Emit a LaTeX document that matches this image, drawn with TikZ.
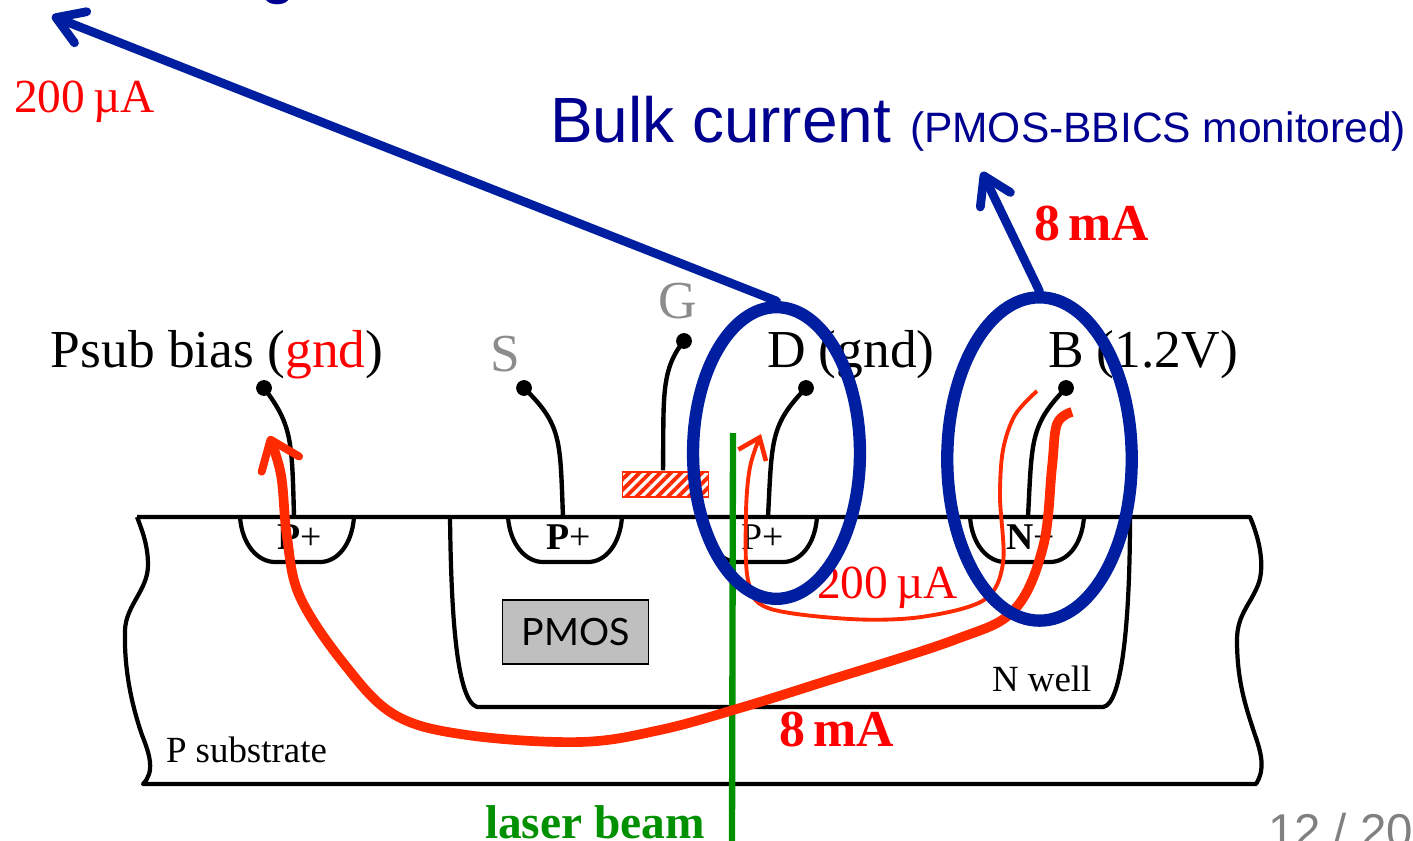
\documentclass[tikz,border=0pt]{standalone}
\usepackage{fontspec}
\setmainfont{Liberation Serif}
\setsansfont{Liberation Sans}
\newfontfamily\boxfont{Lato}
\usetikzlibrary{arrows.meta,patterns.meta,shapes.geometric}

\definecolor{loopblue}{HTML}{001EA0}
\definecolor{titleblue}{HTML}{000090}
\definecolor{currentred}{HTML}{FF2A00}
\definecolor{beamgreen}{HTML}{009000}

\tikzset{
  lbl/.style={anchor=base west,inner sep=0pt,outer sep=0pt},
  big/.style={lbl,font=\fontsize{30.4}{30.4}\selectfont},
  small/.style={lbl,font=\fontsize{21}{21}\selectfont},
  redlbl/.style={lbl,text=red,font=\fontsize{27}{27}\selectfont},
  boldred/.style={lbl,text=red,font=\fontsize{29.5}{29.5}\selectfont\bfseries},
  dopant/.style={lbl,font=\fontsize{21.5}{21.5}\selectfont},
  termdot/.style={circle,fill=black,minimum size=9pt,inner sep=0pt},
  silicon/.style={line width=2.4pt,black,line join=round},
  wire/.style={line width=2.5pt,black},
  loopring/.style={ellipse,draw=loopblue,line width=7pt,inner sep=0pt},
  blueflow/.style={loopblue,line width=5pt,line cap=round,-{Straight Barb[length=15pt,width=19pt,line width=5pt,round]}},
  thickflow/.style={currentred,line width=5.5pt,-{Straight Barb[length=15pt,width=23pt,line width=4.5pt,round]}},
  thinflow/.style={currentred,line width=2.2pt,-{Straight Barb[length=11pt,width=17pt,line width=2.6pt]}}
}

\begin{document}
\begin{tikzpicture}[x=0.02cm,y=-0.02cm]
\useasboundingbox (0,0) rectangle (1413,841); % Same size as the slide

% Substrate outline
\draw[silicon] (137,517) -- (1250,517) .. controls (1262,545) and (1264,570) .. (1258,585) .. controls (1250,605) and (1237,615) .. (1237,640) .. controls (1237,680) and (1245,705) .. (1255,735) .. controls (1262,755) and (1265,770) .. (1256,784) -- (143,784) .. controls (155,772) and (150,755) .. (142,735) .. controls (130,700) and (124,665) .. (125,630) .. controls (126,605) and (148,590) .. (148,565) .. controls (148,545) and (142,530) .. (137,517);
% N well outline
\draw[silicon] (450,517) .. controls (451,600) and (455,700) .. (477,707) -- (1103,707) .. controls (1122,705) and (1130,620) .. (1130,517);

% Wells in the surface
\draw[silicon] (240,517) .. controls (242,545) and (258,562) .. (275,562) -- (320,562) .. controls (337,562) and (352,545) .. (354,517);
\draw[silicon] (508,517) .. controls (510,545) and (526,562) .. (543,562) -- (588,562) .. controls (605,562) and (620,545) .. (622,517);
\draw[silicon] (703,517) .. controls (705,545) and (721,562) .. (738,562) -- (783,562) .. controls (800,562) and (815,545) .. (817,517);
\draw[silicon] (970,517) .. controls (972,545) and (988,562) .. (1005,562) -- (1050,562) .. controls (1067,562) and (1082,545) .. (1084,517);

% Dopant labels
\node[dopant] (pplusA) at (277,549) {\textbf{P}+};
\node[dopant] (pplusS) at (546,549) {\textbf{P}+};
\node[dopant] (pplusD) at (741,549) {P+};
\node[dopant] (nplusB) at (1006,549) {\textbf{N}+};

% Gate
\node[draw=currentred,line width=1pt,pattern={Lines[angle=45,distance=4.2pt,line width=2.2pt]},pattern color=currentred,minimum width=49pt,minimum height=14pt,inner sep=0pt] (gate) at (665.5,484.5) {};

% Terminals
\node[termdot] (termP) at (264,388) {};
\node[termdot] (termS) at (524,388) {};
\node[termdot] (termG) at (684,341) {};
\node[termdot] (termD) at (806,388) {};
\node[termdot] (termB) at (1066,388) {};
\coordinate (footP) at (294,517);
\coordinate (footS) at (563,517);
\coordinate (footD) at (768,517);
\coordinate (footB) at (1028,517);
\draw[wire] (footP) .. controls (292,440) and (292,425) .. (termP.center);
\draw[wire] (footS) .. controls (560,440) and (562,425) .. (termS.center);
\draw[wire] (gate.north -| 663,0) .. controls (664,400) and (660,370) .. (termG.center);
\draw[wire] (footD) .. controls (772,440) and (770,425) .. (termD.center);
\draw[wire] (footB) .. controls (1032,440) and (1030,425) .. (termB.center);

% PMOS box
\node[draw=black,fill=black!25,line width=1pt,minimum width=83pt,minimum height=36.5pt,inner sep=0pt,font=\boxfont\fontsize{21.4}{21.4}\selectfont] (pmos) at (575.5,632) {PMOS};

% Texts
\node[lbl,text=titleblue,font=\sffamily\fontsize{36.4}{36.4}\selectfont] (cutword) at (260,-8) {g};
\node[redlbl] (topcurrent) at (14,113) {200\,µA};
\node[lbl,text=titleblue,font=\sffamily\fontsize{36.4}{36.4}\selectfont] (bulk) at (550,143) {Bulk current};
\node[lbl,text=titleblue,font=\sffamily\fontsize{24.2}{24.2}\selectfont] (monitor) at (910,143) {(PMOS-BBICS monitored)};
\node[boldred] (bulkcurrent) at (1034,241) {8\,mA};
\node[big] (psub) at (51,367) {Psub bias (\textcolor{red}{gnd})};
\node[big,text=black!45] (labS) at (490,371) {S};
\node[big,text=black!45] (labG) at (658,318) {G};
\node[big] (labD) at (767,367) {D (gnd)};
\node[big] (labB) at (1048,367) {B (1.2V)};
\node[redlbl] (midcurrent) at (817,598) {200\,µA};
\node[small] (nwell) at (992,691) {N well};
\node[small] (psubstrate) at (166,762) {P substrate};
\node[boldred] (lowcurrent) at (779,746) {8\,mA};
\node[lbl,text=beamgreen,font=\fontsize{27}{27}\selectfont\bfseries] (laser) at (485,838) {laser beam};
\node[lbl,text=black!50,font=\sffamily\fontsize{27}{27}\selectfont] (pageno) at (1268,847) {12 / 20};

% Laser beam
\coordinate (beamtop) at (733,433);
\coordinate (beamend) at (732,841);
\draw[beamgreen,line width=3.6pt] (beamtop) -- (beamend);

% Currents
\draw[thinflow] plot[smooth,tension=0.55] coordinates {(1037,391) (1015,415) (1003,450) (1000,497) (1003,563) (984,600) (921,617) (850,619) (768,608) (748,580) (746,513) (750,467) (761,434)};
\draw[thickflow] plot[smooth,tension=0.6] coordinates {(1072,412) (1057,424) (1052,467) (1043,547) (1014,610) (954,640) (820,683) (740,708) (660,730) (580,742) (467,735) (395,715) (345,665) (300,597) (287,537) (281,475) (269,436)};

% Monitored regions
\node[loopring,minimum width=95pt,minimum height=166pt] (ringD) at (776.5,453) {};
\node[loopring,minimum width=105pt,minimum height=184pt] (ringB) at (1039.5,459) {};
\coordinate (topleft) at (52,16);
\coordinate (bulktip) at (982,172);
\draw[blueflow] (ringD.north) -- (topleft);
\draw[blueflow] (ringB.north) -- (bulktip);
\end{tikzpicture}
\end{document}
